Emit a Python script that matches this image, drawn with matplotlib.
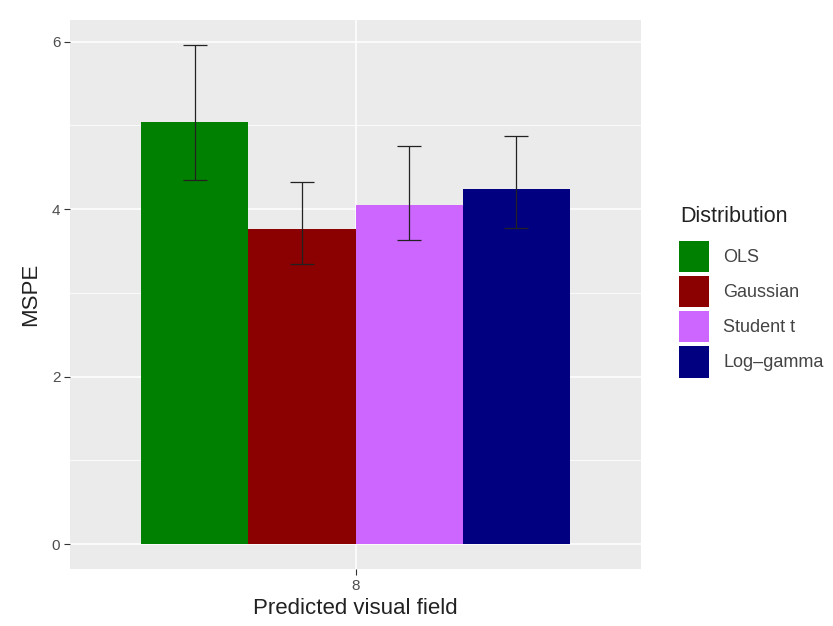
import matplotlib
matplotlib.use("Agg")
import matplotlib.pyplot as plt
from matplotlib.patches import Patch

# data
dists = ["OLS", "Gaussian", "Student t", "Log\u2013gamma"]
mspe = [5.04, 3.76, 4.05, 4.24]
err_lo = [4.35, 3.34, 3.63, 3.77]
err_hi = [5.96, 4.33, 4.75, 4.88]
colors = ["#008000", "#8B0000", "#CC66FF", "#000080"]
field = "8"

plt.rcParams['font.family'] = ['Liberation Sans', 'DejaVu Sans']

W, H = 833, 626
fig = plt.figure(figsize=(W / 100, H / 100), dpi=100)
ax = fig.add_axes([70 / W, (H - 569) / H, 571 / W, 549 / H])
ax.set_facecolor("#EBEBEB")

n = len(dists)
bw = 0.9 / n
centers = [1 - 0.45 + bw / 2 + i * bw for i in range(n)]

ax.bar(centers, mspe, width=bw, color=colors, zorder=2)
yerr = [[m - l for m, l in zip(mspe, err_lo)], [h - m for m, h in zip(mspe, err_hi)]]
ax.errorbar(centers, mspe, yerr=yerr, fmt="none", ecolor="#222222",
            elinewidth=0.9, capsize=8.6, capthick=0.9, zorder=3)

ax.set_xlim(0.4, 1.6)
ax.set_ylim(-0.298, 6.26)
ax.set_xticks([1])
ax.set_xticklabels([field])
ax.set_yticks([0, 2, 4, 6])
ax.set_yticks([1, 3, 5], minor=True)
ax.grid(which="major", color="white", linewidth=1.1, zorder=0)
ax.grid(which="minor", axis="y", color="white", linewidth=0.55, zorder=0)
ax.set_axisbelow(True)
for s in ax.spines.values():
    s.set_visible(False)
ax.tick_params(which="major", length=4, width=0.8, color="#333333",
               labelcolor="#4D4D4D", labelsize=11, pad=3)
ax.tick_params(which="minor", length=0)

ax.set_xlabel("Predicted visual field", fontsize=16, labelpad=4, color="#222222")
ax.set_ylabel("MSPE", fontsize=16, labelpad=8, color="#222222")

# legend title drawn separately so the gap to the keys matches
fig.text(680 / W, 1 - 217 / H, "Distribution", fontsize=15.5, color="#222222",
         ha="left", va="center")
handles = [Patch(facecolor=c, edgecolor="none") for c in colors]
leg = fig.legend(handles, dists, loc="upper left",
                 bbox_to_anchor=(679 / W, 1 - 241 / H), frameon=False,
                 fontsize=13, handlelength=1.66,
                 handleheight=2.3, handletextpad=0.8, labelspacing=0.2,
                 borderpad=0, borderaxespad=0)
for t in leg.get_texts():
    t.set_color("#444444")

fig.savefig("out.png", dpi=100)
